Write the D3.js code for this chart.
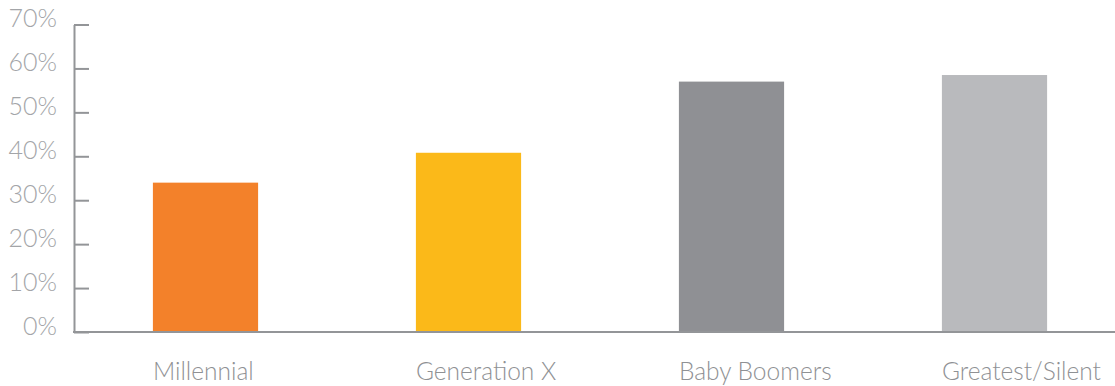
<!DOCTYPE html>
<html>
<head>
<meta charset="utf-8">
<script src="https://cdn.jsdelivr.net/npm/d3@7"></script>
<style>
body { margin: 0; background: #fff; }
text { font-family: "Lato", "Open Sans", sans-serif; font-weight: 300; }
</style>
</head>
<body>
<div class="container"></div>
<script>
// generations and share (%)
var generations = ["Millennial", "Generation X", "Baby Boomers", "Greatest/Silent"];
var shares = [34, 40.8, 57, 58.5];
var barColors = ["#f3812a", "#fbb919", "#8f9094", "#b9babd"];
var yTicks = [0, 10, 20, 30, 40, 50, 60, 70];

var opts = {
	width: 1115,
	height: 386,
	axisX: 74,
	top: 24.5,
	bottom: 332
};

var data = generations.map(function(g, i){
	return {name: g, value: shares[i], color: barColors[i]};
});

var svg = d3.select(".container")
.append("svg")
.attr("width", opts.width)
.attr("height", opts.height);

var y = d3.scaleLinear().domain([0, 70]).range([opts.bottom, opts.top]);

var x = d3.scaleBand()
.domain(generations)
.range([74, 1126])
.paddingInner(0.6)
.paddingOuter(0.3);

// bars
svg.append("g").selectAll("rect").data(data).enter().append("rect")
.attr("x", function(d){return x(d.name);})
.attr("y", function(d){return y(d.value);})
.attr("width", x.bandwidth())
.attr("height", function(d){return y(0) - y(d.value);})
.style("fill", function(d){return d.color;});

// y axis, ticks pointing inward
var yAxis = d3.axisLeft(y)
.tickValues(yTicks)
.tickFormat(function(d){return d + "%";})
.tickSizeInner(-15)
.tickSizeOuter(0)
.tickPadding(17);

var yg = svg.append("g")
.attr("transform", "translate(" + opts.axisX + ",0)")
.call(yAxis);

yg.select(".domain").attr("stroke", "#939598").attr("stroke-width", 2);
yg.selectAll(".tick line").attr("stroke", "#939598").attr("stroke-width", 2);
yg.selectAll(".tick text")
.attr("y", -6)
.style("font-size", "25px")
.style("font-family", "Lato, 'Open Sans', sans-serif")
.style("font-weight", 300)
.attr("fill", "#a3a5a8");

// baseline
svg.append("line")
.attr("x1", opts.axisX - 1)
.attr("x2", opts.width)
.attr("y1", y(0))
.attr("y2", y(0))
.attr("stroke", "#939598")
.attr("stroke-width", 2);

// category labels, left aligned with bars
svg.append("g").selectAll("text").data(data).enter().append("text")
.attr("x", function(d){return x(d.name);})
.attr("y", 380)
.attr("text-anchor", "start")
.style("font-size", "24.5px")
.attr("fill", "#8f9194")
.text(function(d){return d.name;});
</script>
</body>
</html>
